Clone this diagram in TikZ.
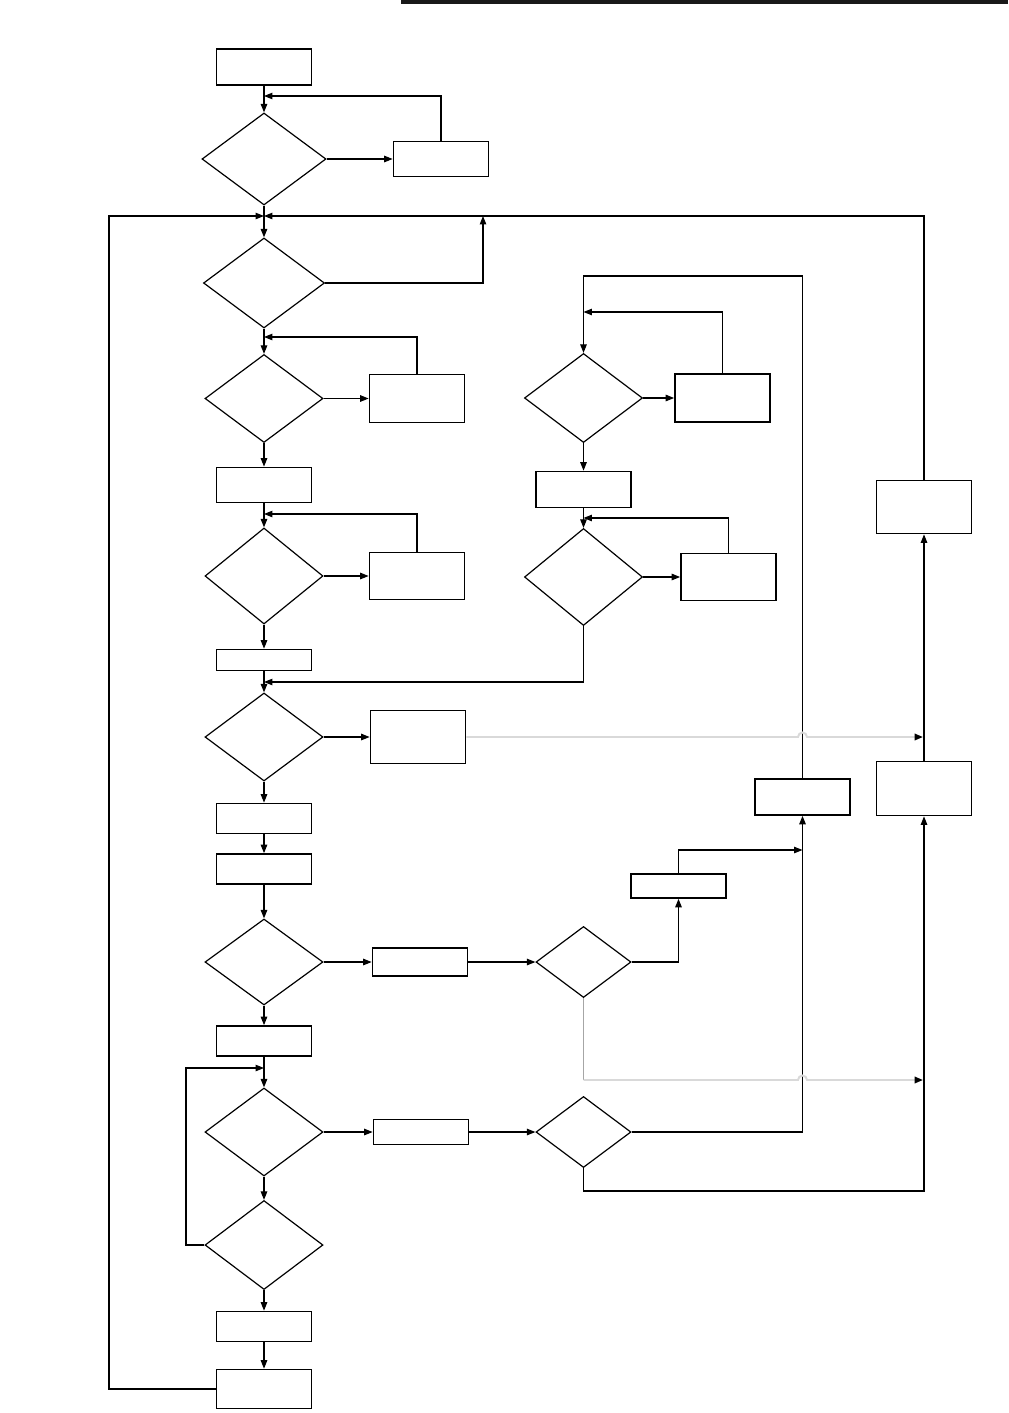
\documentclass[tikz,border=0pt]{standalone}
\usetikzlibrary{shapes.geometric,arrows.meta}
\begin{document}
\begin{tikzpicture}[x=0.025cm,y=-0.025cm,
  ln/.style={line width=0.75pt,black},
  arr/.style={ln,-{Triangle[length=6pt,width=4.6pt]}},
  garr/.style={line width=1.4pt,color=black!15,-{Triangle[length=6pt,width=4.6pt,fill=black,color=black]}},
  box/.style={draw,line width=1.2pt,inner sep=0pt,minimum width=2.375cm},
  dia/.style={draw,diamond,line width=0.85pt,inner sep=0pt,minimum width=2.95cm}]
\useasboundingbox (0,0) rectangle (1008,1413);
\fill[black!90] (401,0) rectangle (1008,4.5);
% main column
\node[box,minimum height=0.9cm] (B1) at (264,67) {};
\node[dia,minimum width=3.1cm,minimum height=2.3cm] (D1) at (264,159) {};
\node[box,minimum height=0.875cm] (R1) at (441,159) {};
\node[dia,minimum width=3.025cm,minimum height=2.25cm] (D2) at (264,283) {};
\node[dia,minimum height=2.2cm] (D3) at (264,398.5) {};
\node[box,minimum height=1.2cm] (R3) at (417,398.5) {};
\node[box,minimum height=0.875cm] (B4) at (264,485) {};
\node[dia,minimum height=2.4cm] (D4) at (264,576) {};
\node[box,minimum height=1.175cm] (R4) at (417,576) {};
\node[box,minimum height=0.525cm] (B5) at (264,660) {};
\node[dia,minimum height=2.2cm] (D5) at (264,737) {};
\node[box,minimum height=1.325cm] (R5) at (418,737) {};
\node[box,minimum height=0.75cm] (B6) at (264,818.5) {};
\node[box,minimum height=0.75cm] (B7) at (264,869) {};
\node[dia,minimum height=2.15cm] (D6) at (264,962) {};
\node[box,minimum height=0.7cm] (R6) at (420,962) {};
\node[dia,minimum width=2.375cm,minimum height=1.775cm] (DR3) at (583.5,962) {};
\node[box,minimum height=0.6cm] (R7) at (678.5,886) {};
\node[box,minimum height=0.75cm] (B8) at (264,1041) {};
\node[dia,minimum height=2.2cm] (D8) at (264,1132) {};
\node[box,minimum height=0.625cm] (R8) at (421,1132) {};
\node[dia,minimum width=2.375cm,minimum height=1.775cm] (DR4) at (583.5,1132) {};
\node[dia,minimum height=2.225cm] (D9) at (264,1245) {};
\node[box,minimum height=0.75cm] (B9) at (264,1326.5) {};
\node[box,minimum height=0.975cm] (B10) at (264,1389) {};
% right columns
\node[dia,minimum height=2.225cm] (DR1) at (583.5,398) {};
\node[box,minimum height=1.2cm] (RR1) at (722.5,398) {};
\node[box,minimum height=0.9cm] (BR) at (583.5,489.5) {};
\node[dia,minimum height=2.425cm] (DR2) at (583.5,577) {};
\node[box,minimum height=1.175cm] (RR2) at (728.5,577) {};
\node[box,minimum height=1.325cm] (Rtop) at (924,507) {};
\node[box,minimum height=0.9cm] (Rmid) at (802.5,797) {};
\node[box,minimum height=1.35cm] (Rbot) at (924,788.5) {};
% junction coordinates
\coordinate (j1) at (264,96);
\coordinate (j2) at (264,216);
\coordinate (j3) at (264,337);
\coordinate (j4) at (264,514);
\coordinate (j5) at (264,682);
\coordinate (j6) at (264,1068);
\coordinate (k1) at (583.5,312);
\coordinate (k2) at (583.5,518);
\coordinate (k3) at (802.5,850);
\coordinate (up2) at (483,216);
% connectors main column
\draw[arr] (B1.south) -- (D1.north);
\draw[arr] (R1.north) |- (j1);
\draw[arr] (D1.east) -- (R1.west);
\draw[arr] (D1.south) -- (D2.north);
\draw[arr] (B10.west) -- (109,1389) |- (j2);
\draw[arr] (Rtop.north) |- (j2);
\draw[arr] (D2.east) -| (up2);
\draw[arr] (D2.south) -- (D3.north);
\draw[arr] (R3.north) |- (j3);
\draw[arr] (D3.east) -- (R3.west);
\draw[arr] (D3.south) -- (B4.north);
\draw[arr] (B4.south) -- (D4.north);
\draw[arr] (R4.north) |- (j4);
\draw[arr] (D4.east) -- (R4.west);
\draw[arr] (D4.south) -- (B5.north);
\draw[arr] (B5.south) -- (D5.north);
\draw[arr] (DR2.south) |- (j5);
\draw[arr] (D5.east) -- (R5.west);
\draw[arr] (D5.south) -- (B6.north);
\draw[arr] (B6.south) -- (B7.north);
\draw[arr] (B7.south) -- (D6.north);
\draw[arr] (D6.east) -- (R6.west);
\draw[arr] (R6.east) -- (DR3.west);
\draw[arr] (DR3.east) -| (R7.south);
\draw[arr] (R7.north) |- (k3);
\draw[arr] (D6.south) -- (B8.north);
\draw[arr] (B8.south) -- (D8.north);
\draw[arr] (D9.west) -- (186,1245) |- (j6);
\draw[arr] (D8.east) -- (R8.west);
\draw[arr] (R8.east) -- (DR4.west);
\draw[arr] (DR4.east) -| (Rmid.south);
\draw[arr] (DR4.south) |- (924,1191) -- (Rbot.south);
\draw[arr] (D8.south) -- (D9.north);
\draw[arr] (D9.south) -- (B9.north);
\draw[arr] (B9.south) -- (B10.north);
% right column loops
\draw[arr] (Rmid.north) |- (583.5,276) -- (DR1.north);
\draw[arr] (RR1.north) |- (k1);
\draw[arr] (DR1.east) -- (RR1.west);
\draw[arr] (DR1.south) -- (BR.north);
\draw[arr] (BR.south) -- (DR2.north);
\draw[arr] (RR2.north) |- (k2);
\draw[arr] (DR2.east) -- (RR2.west);
\draw[arr] (Rbot.north) -- (Rtop.south);
% grey connectors with hops
\draw[garr] (R5.east) -- (798,737) arc (180:360:4.5) -- (923,737);
\draw[line width=0.7pt,black!35] (DR3.south) -- (583.5,1080);
\draw[garr] (583.5,1080) -- (798,1080) arc (180:360:4.5) -- (923,1080);
\end{tikzpicture}
\end{document}
